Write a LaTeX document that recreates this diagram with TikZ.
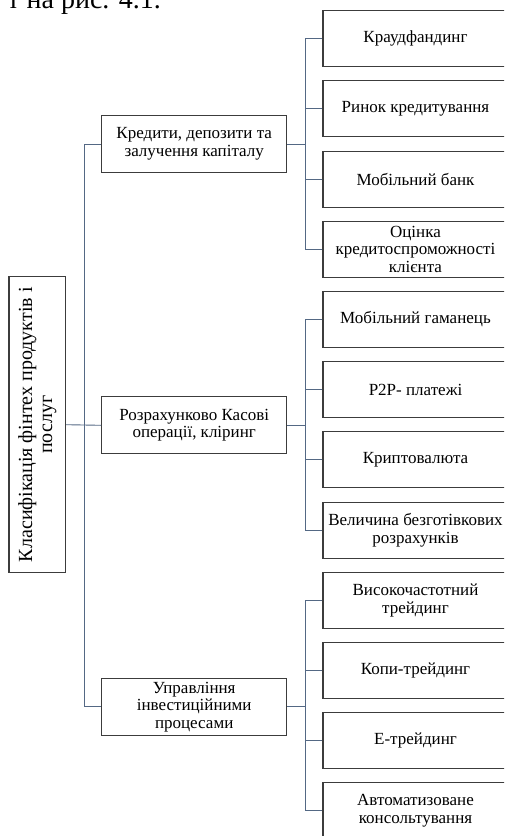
\documentclass[tikz,border=0pt]{standalone}
\usepackage{fontspec}
\setmainfont{Liberation Serif}
\usetikzlibrary{positioning}
\definecolor{linkblue}{RGB}{84,104,132}
\definecolor{boxgray}{RGB}{60,60,60}

\tikzset{
  box/.style={draw=boxgray, line width=1.1pt, fill=white, align=center,
    inner sep=2pt, font=\fontsize{17}{17.5}\selectfont},
  leaf/.style={box, minimum width=185pt, minimum height=56pt},
  group/.style={box, minimum width=185pt, minimum height=57pt},
  link/.style={draw=linkblue, line width=0.9pt}
}

\begin{document}
\begin{tikzpicture}[x=1pt, y=-1pt, line cap=butt, line join=miter]
\useasboundingbox (0,0) rectangle (504,836);
\clip (0,0) rectangle (504,836);

% text of the page above
\node[anchor=base east, inner sep=0, font=\fontsize{28}{30}\selectfont] (caption) at (161,8) {т на рис. 4.1.};

%========================
% root
%========================
\node[box, rotate=90, minimum width=296pt, minimum height=56.7pt,
      font=\fontsize{20}{20}\selectfont] (root) at (37.3,424.7)
  {Класифікація фінтех продуктів і\\послуг};

%========================
% groups
%========================
\node[group] (credit) at (194.2,144) {Кредити, депозити та\\залучення капіталу};
\node[group] (settle) at (194.2,425.3) {Розрахунково Касові\\операції, кліринг};
\node[group] (invest) at (194.2,706.7) {Управління\\інвестиційними\\процесами};

%========================
% leaves
%========================
\node[leaf] (c1) at (415.5,38.7)  {Краудфандинг};
\node[leaf] (c2) at (415.5,108.9) {Ринок кредитування};
\node[leaf] (c3) at (415.5,179.1) {Мобільний банк};
\node[leaf] (c4) at (415.5,249.3) {Оцінка\\кредитоспроможності\\клієнта};

\node[leaf] (s1) at (415.5,319.5) {Мобільний гаманець};
\node[leaf] (s2) at (415.5,389.7) {Р2Р- платежі};
\node[leaf] (s3) at (415.5,459.9) {Криптовалюта};
\node[leaf] (s4) at (415.5,530.1) {Величина безготівкових\\розрахунків};

\node[leaf] (i1) at (415.5,600.3) {Високочастотний\\трейдинг};
\node[leaf] (i2) at (415.5,670.5) {Копи-трейдинг};
\node[leaf] (i3) at (415.5,740.7) {Е-трейдинг};
\node[leaf] (i4) at (415.5,810.9) {Автоматизоване\\консольтування};

%========================
% connectors
%========================
\coordinate (trunk) at (84.3,144);
\draw[link] (root.south) -- (settle.west);
\draw[link] (credit.west) -- (trunk) |- (invest.west);

\foreach \g/\k in {credit/c, settle/s, invest/i}{
  \coordinate (\g bus) at (305,0);
  \draw[link] (\g.east) -- (\g.east -| \g bus);
  \draw[link] (\k1.west) -| (\k1.west -| \g bus) |- (\k4.west);
  \foreach \n in {2,3}
    \draw[link] (\k\n.west) -- (\k\n.west -| \g bus);
}
\end{tikzpicture}
\end{document}
